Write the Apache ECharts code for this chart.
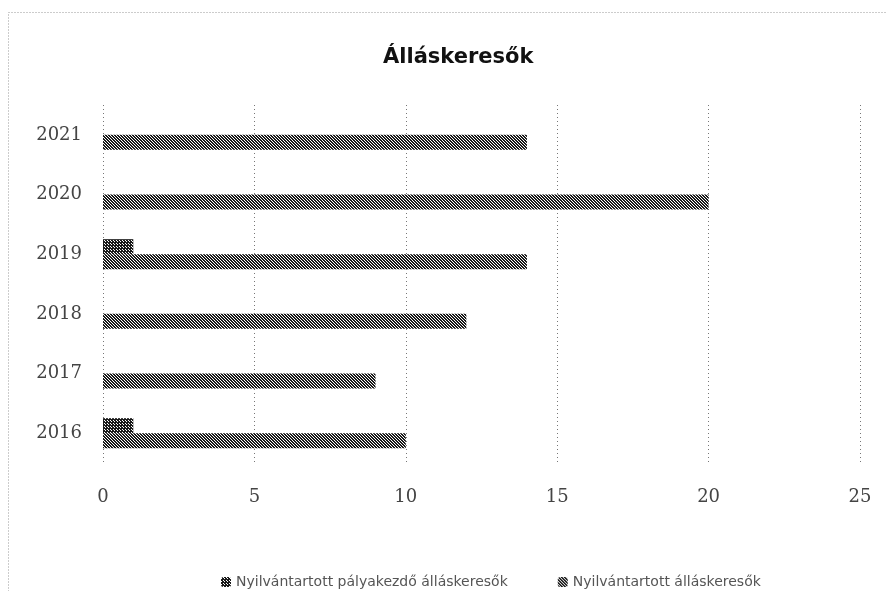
<!DOCTYPE html>
<html>
<head>
<meta charset="utf-8">
<script src="https://cdn.jsdelivr.net/npm/echarts@6/dist/echarts.min.js"></script>
<style>
html,body{margin:0;padding:0;background:#fff;}
#chart{width:886px;height:591px;}
</style>
</head>
<body>
<div id="chart"></div>
<script>
// ---- data ----
const categories = ['2016', '2017', '2018', '2019', '2020', '2021'];
const seriesNames = ['Nyilvántartott pályakezdő álláskeresők', 'Nyilvántartott álláskeresők'];
const palyakezdo = [1, 0, 0, 1, 0, 0];
const allaskeresok = [10, 9, 12, 14, 20, 14];
const xTicks = [0, 5, 10, 15, 20, 25];

function makePattern(kind) {
  const c = document.createElement('canvas');
  c.width = 6; c.height = 6;
  const ctx = c.getContext('2d');
  ctx.fillStyle = '#ffffff';
  ctx.fillRect(0, 0, 6, 6);
  ctx.fillStyle = '#1a1a1a';
  for (let y = 0; y < 6; y++) {
    for (let x = 0; x < 6; x++) {
      const d = ((x - y) % 3 + 3) % 3;
      let on;
      if (kind === 'diag') on = d !== 2;
      else on = d !== 2 || ((x + y) % 3 === 0);
      if (on) ctx.fillRect(x, y, 1, 1);
    }
  }
  return { image: c, repeat: 'repeat' };
}

const chart = echarts.init(document.getElementById('chart'), null, { renderer: 'canvas' });
const labelFont = { fontFamily: 'DejaVu Serif', fontSize: 18, color: '#444' };

chart.setOption({
  animation: false,
  backgroundColor: '#fff',
  title: {
    text: 'Álláskeresők',
    left: 378,
    top: 42,
    textStyle: { fontFamily: 'DejaVu Sans', fontWeight: 'bold', fontSize: 21, color: '#111' }
  },
  graphic: [{
    type: 'rect',
    shape: { x: 8.5, y: 12.5, width: 900, height: 600 },
    style: { fill: 'none', stroke: '#999', lineWidth: 1, lineDash: [1, 2] },
    silent: true
  }],
  grid: { left: 103, right: 26, top: 105, bottom: 128 },
  legend: {
    data: seriesNames,
    left: 216,
    top: 570,
    itemWidth: 10,
    itemHeight: 10,
    itemGap: 50,
    textStyle: { fontFamily: 'DejaVu Sans', fontSize: 14, color: '#555' }
  },
  xAxis: {
    type: 'value',
    min: xTicks[0],
    max: xTicks[xTicks.length - 1],
    interval: 5,
    axisLine: { show: false },
    axisTick: { show: false },
    axisLabel: Object.assign({ margin: 25 }, labelFont),
    splitLine: { show: true, lineStyle: { color: '#777', type: [1, 3], width: 1 } }
  },
  yAxis: {
    type: 'category',
    data: categories,
    axisLine: { show: false },
    axisTick: { show: false },
    axisLabel: Object.assign({ margin: 21 }, labelFont)
  },
  series: [
    {
      name: seriesNames[0],
      type: 'bar',
      data: palyakezdo,
      barWidth: 15,
      barGap: '0%',
      itemStyle: { color: makePattern('cross') }
    },
    {
      name: seriesNames[1],
      type: 'bar',
      data: allaskeresok,
      barWidth: 15,
      barGap: '0%',
      itemStyle: { color: makePattern('diag') }
    }
  ]
});
</script>
</body>
</html>
